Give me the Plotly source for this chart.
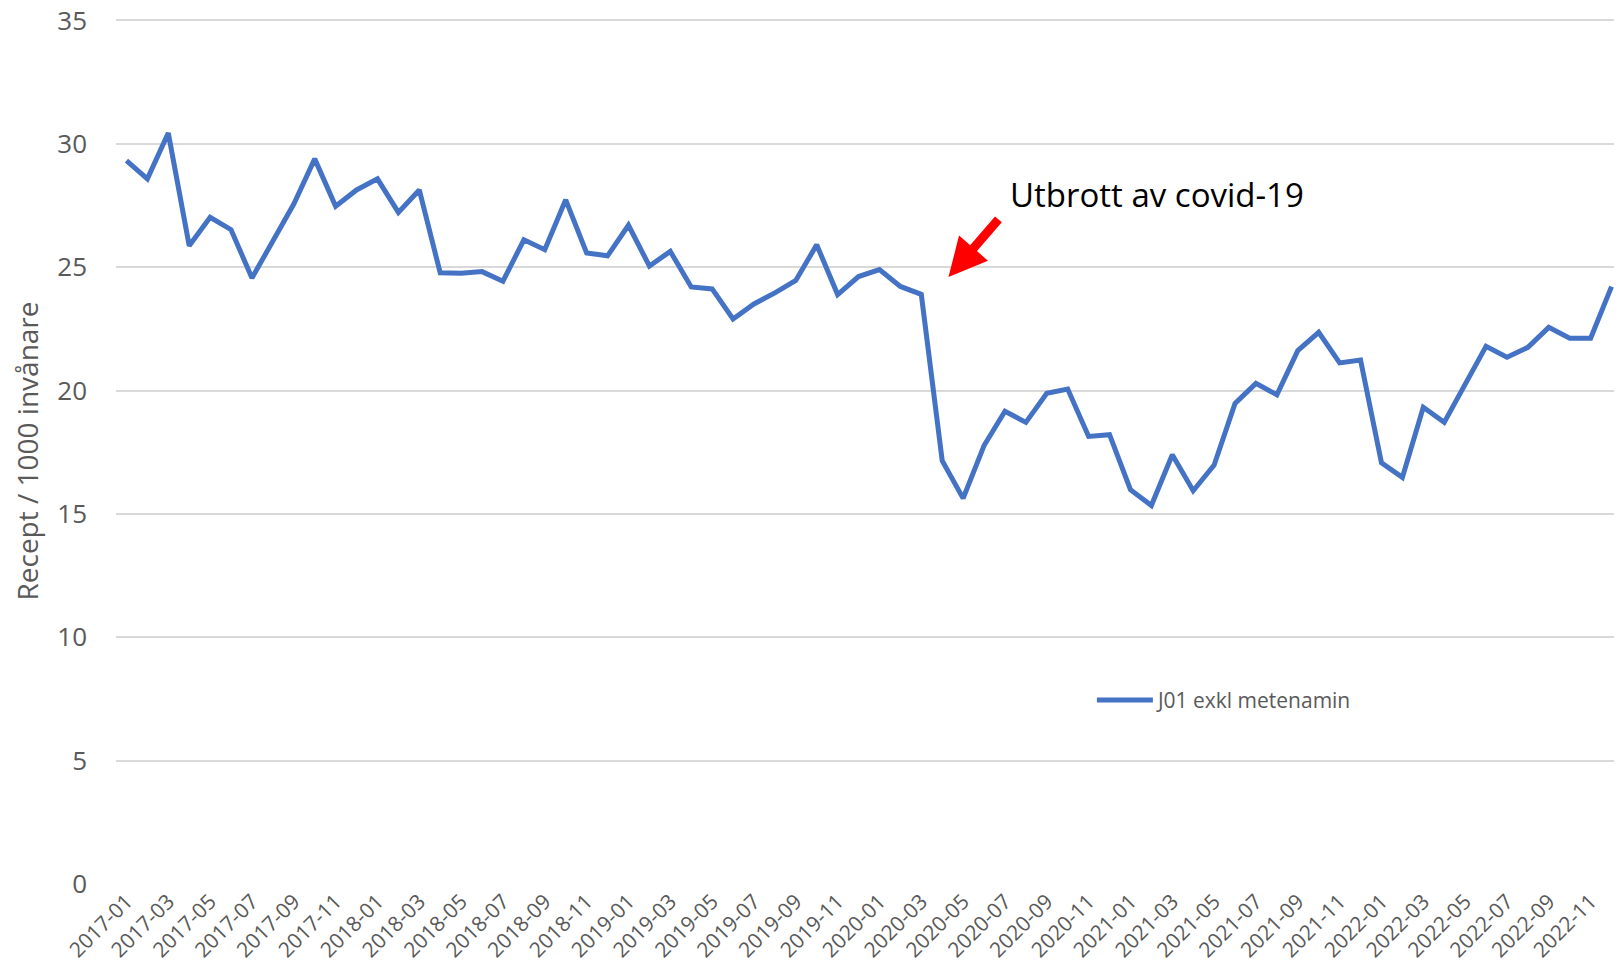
import plotly.graph_objects as go

# Monthly values, 2017-01 .. 2022-12
months = [f"{y}-{m:02d}" for y in range(2017, 2023) for m in range(1, 13)]
values = [
    29.32, 28.58, 30.44, 25.87, 27.02, 26.52, 24.56, 26.08, 27.56, 29.39, 27.47, 28.13,  # 2017
    28.58, 27.22, 28.13, 24.77, 24.75, 24.82, 24.43, 26.11, 25.71, 27.73, 25.58, 25.46,  # 2018
    26.70, 25.05, 25.64, 24.20, 24.12, 22.90, 23.51, 23.96, 24.46, 25.91, 23.89, 24.62,  # 2019
    24.90, 24.22, 23.90, 17.16, 15.63, 17.77, 19.16, 18.71, 19.89, 20.06, 18.14, 18.21,  # 2020
    15.98, 15.34, 17.40, 15.94, 16.98, 19.48, 20.29, 19.83, 21.62, 22.36, 21.12, 21.24,  # 2021
    17.07, 16.48, 19.32, 18.71, 20.27, 21.79, 21.35, 21.75, 22.56, 22.12, 22.12, 24.21,  # 2022
]
tick_labels = months[::2]
y_ticks = [0, 5, 10, 15, 20, 25, 30, 35]

series_name = "J01 exkl metenamin"
annotation_text = "Utbrott av covid-19"

FONT = "Open Sans"
GREY = "#595959"

fig = go.Figure()
fig.add_trace(
    go.Scatter(
        x=months,
        y=values,
        mode="lines",
        name=series_name,
        line=dict(color="#4472C4", width=5),
    )
)

# Red arrow pointing at the drop in spring 2020
fig.add_annotation(
    x=39.3, y=24.6, xref="x", yref="y",
    ax=41.75, ay=27.0, axref="x", ayref="y",
    text="", showarrow=True,
    arrowhead=2, arrowsize=0.85, arrowwidth=9, arrowcolor="#FF0000",
)
fig.add_annotation(
    x=42.15, y=27.94, xref="x", yref="y",
    text=annotation_text, showarrow=False,
    xanchor="left", yanchor="middle",
    font=dict(family=FONT, size=33, color="#000000"),
)

# the page body adds an 8px margin, so the figure is shrunk by that amount
fig.update_layout(
    width=1614,
    height=957,
    margin=dict(l=108, r=0, t=10, b=81),
    plot_bgcolor="white",
    paper_bgcolor="white",
    font=dict(family=FONT, color=GREY),
    showlegend=True,
    legend=dict(
        x=0.648, y=0.212, xanchor="left", yanchor="middle",
        itemwidth=56,
        font=dict(family=FONT, size=21, color=GREY),
        bgcolor="rgba(0,0,0,0)",
    ),
)

fig.update_xaxes(
    type="category",
    range=[-0.5, 71.5],
    tickmode="array",
    tickvals=tick_labels,
    ticktext=tick_labels,
    tickangle=-45,
    tickfont=dict(family=FONT, size=21, color=GREY),
    showgrid=False,
    showline=False,
    zeroline=False,
    ticks="",
    automargin=False,
)

# range a little past 35 so plotly keeps the top gridline
fig.update_yaxes(
    range=[0, 35.1],
    tickvals=y_ticks,
    tickfont=dict(family=FONT, size=26, color=GREY),
    ticklabelstandoff=28,
    ticklabeloverflow="allow",
    showgrid=True,
    gridcolor="#D9D9D9",
    gridwidth=1.5,
    zeroline=False,
    showline=False,
    ticks="",
    title=dict(text="Recept / 1000 invånare", font=dict(family=FONT, size=28, color=GREY), standoff=10),
    automargin=False,
)

fig.write_html("out.html")
